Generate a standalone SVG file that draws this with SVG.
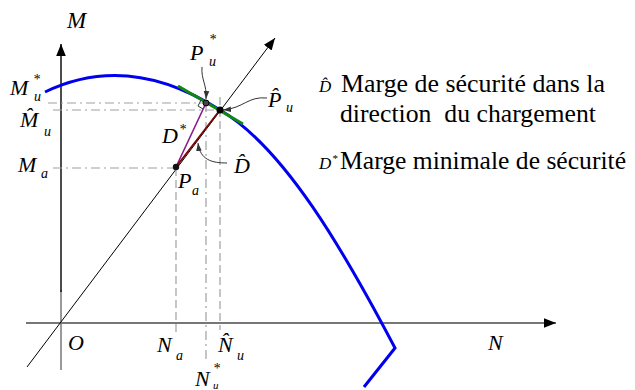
<svg xmlns="http://www.w3.org/2000/svg" width="635" height="390" viewBox="0 0 635 390">
<defs>
<style>
.m{font-style:italic;font-size:22px;fill:#000}
.s{font-style:italic;font-size:14px;fill:#000}
.t{font-size:26px;fill:#000;white-space:pre}
.dash{fill:none;stroke:#a0a0a0;stroke-width:1.2;stroke-dasharray:9 4 2 4}
.dsh{fill:none;stroke:#a0a0a0;stroke-width:1.2;stroke-dasharray:8 4}
.lead{fill:none;stroke:#333;stroke-width:1}
</style>
<marker id="ah" viewBox="0 0 10 10" refX="10" refY="5" markerWidth="12" markerHeight="12" markerUnits="userSpaceOnUse" orient="auto">
<path d="M0,1 L10,5 L0,9 Z" fill="#000"/>
</marker>
<marker id="sa" viewBox="0 0 10 10" refX="10" refY="5" markerWidth="8" markerHeight="8" markerUnits="userSpaceOnUse" orient="auto">
<path d="M0,1.5 L10,5 L0,8.5 Z" fill="#333"/>
</marker>
</defs>
<rect width="635" height="390" fill="#fff"/>
<g id="connectors">
<line x1="61" y1="370" x2="61" y2="290" stroke="#777" stroke-width="1.5"/>
<line x1="61" y1="292" x2="61" y2="44" stroke="#111" stroke-width="1.5" marker-end="url(#ah)"/>
<line x1="26" y1="323" x2="556" y2="323" stroke="#777" stroke-width="2" marker-end="url(#ah)"/>
<line x1="27" y1="367" x2="275" y2="38" stroke="#000" stroke-width="1" marker-end="url(#ah)"/>
<line class="dash" x1="48" y1="103" x2="206" y2="103"/>
<line class="dash" x1="53" y1="110" x2="220" y2="110"/>
<line class="dash" x1="53" y1="168" x2="176" y2="168"/>
<line class="dsh" x1="176" y1="168" x2="176" y2="332"/>
<line class="dash" x1="206" y1="103" x2="206" y2="363"/>
<line class="dsh" x1="220" y1="97" x2="220" y2="330"/>
<path d="M45,92 C103,64 162,73 220,110 C285,148 345,253 395,348 L364,387" fill="none" stroke="#0000ee" stroke-width="3"/>
<line x1="178" y1="86" x2="243" y2="124" stroke="#118811" stroke-width="3"/>
<line x1="176" y1="167" x2="206" y2="103" stroke="#8a168a" stroke-width="1.6"/>
<line x1="176" y1="167" x2="220" y2="110" stroke="#7a0a0a" stroke-width="2"/>
<polyline points="201,100 198,106 203,109" fill="none" stroke="#333" stroke-width="1"/>
<path class="lead" d="M202,67 C201,80 207,84 206,99" marker-end="url(#sa)"/>
<path class="lead" d="M267,98 C248,96 244,108 223,110" marker-end="url(#sa)"/>
<path class="lead" d="M227,163 C212,163 200,160 198,143" marker-end="url(#sa)"/>
</g>
<g id="points">
<circle cx="176" cy="167" r="3.2" fill="#111"/>
<circle cx="206" cy="103" r="3" fill="#444" stroke="#000" stroke-width="1"/>
<circle cx="220" cy="110" r="3.5" fill="#000"/>
</g>
<g id="labels" font-family="Liberation Serif, Times New Roman, Times, serif">
<g id="axis-labels">
<text class="m" x="67" y="28" style="font-size:23px">M</text>
<text class="m" x="488" y="350">N</text>
<text class="m" x="68" y="350">O</text>
</g>
<g id="label-Mu-star">
<text class="m" x="10" y="95">M</text>
<text class="s" x="33" y="84">*</text>
<text class="s" x="34" y="101">u</text>
</g>
<g id="label-Mu-hat">
<text class="m" x="20" y="127">M̂</text>
<text class="s" x="44" y="136">u</text>
</g>
<g id="label-Ma">
<text class="m" x="18" y="172">M</text>
<text class="s" x="41" y="178">a</text>
</g>
<g id="label-Pu-star">
<text class="m" x="190" y="60">P</text>
<text class="s" x="209" y="44">*</text>
<text class="s" x="209" y="66">u</text>
</g>
<g id="label-Pu-hat">
<text class="m" x="268" y="107">P̂</text>
<text class="s" x="286" y="112">u</text>
</g>
<g id="label-Dstar">
<text class="m" x="162" y="143">D</text>
<text class="s" x="179" y="134">*</text>
</g>
<g id="label-Dhat">
<text class="m" x="234" y="173">D̂</text>
</g>
<g id="label-Pa">
<text class="m" x="178" y="188">P</text>
<text class="s" x="192" y="195">a</text>
</g>
<g id="label-Na">
<text class="m" x="157" y="352">N</text>
<text class="s" x="176" y="360">a</text>
</g>
<g id="label-Nu-hat">
<text class="m" x="218" y="352">N̂</text>
<text class="s" x="237" y="360">u</text>
</g>
<g id="label-Nu-star">
<text class="m" x="195" y="386">N</text>
<text class="s" x="213" y="373">*</text>
<text class="s" x="213" y="389" style="font-size:11px">u</text>
</g>
<g id="legend">
<text class="m" x="319" y="92" style="font-size:17px">D̂</text>
<text class="t" x="341" y="92" textLength="264" lengthAdjust="spacingAndGlyphs">Marge de sécurité dans la</text>
<text class="t" x="340" y="122" xml:space="preserve" textLength="256" lengthAdjust="spacingAndGlyphs">direction  du chargement</text>
<text class="m" x="319" y="169" style="font-size:17px">D</text>
<text class="s" x="332" y="162" style="font-size:11px">*</text>
<text class="t" x="340" y="169" textLength="286" lengthAdjust="spacingAndGlyphs">Marge minimale de sécurité</text>
</g>
</g>
</svg>
